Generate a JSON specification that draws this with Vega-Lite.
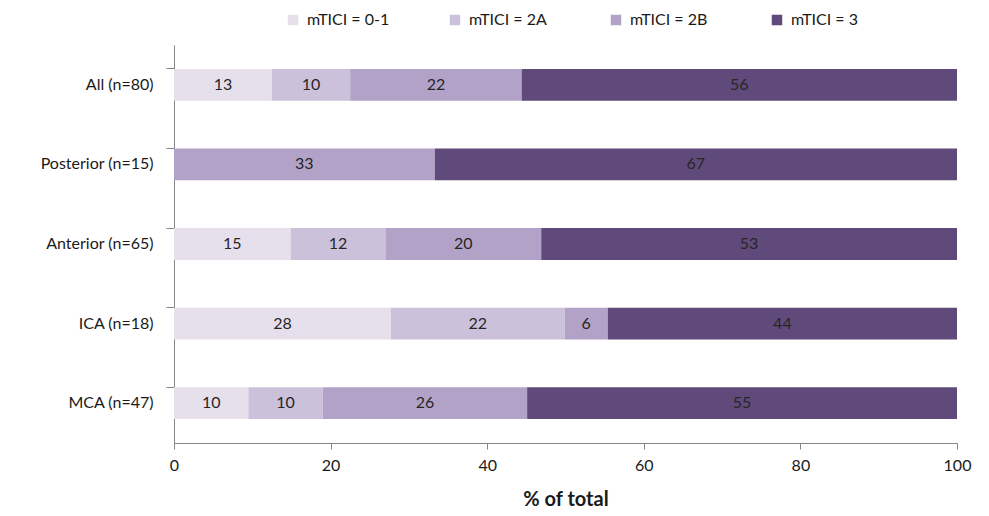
{
  "$schema": "https://vega.github.io/schema/vega-lite/v6.json",
  "width": 783,
  "height": 398,
  "autosize": {"type": "none"},
  "padding": {"left": 174, "top": 45, "right": 32, "bottom": 73},
  "background": "white",
  "config": {
    "font": "Lato",
    "view": {"stroke": null},
    "axis": {"domainColor": "#868686", "tickColor": "#868686", "labelColor": "#1a1a1a", "grid": false, "labelFont": "Lato", "labelFontSize": 16}
  },
  "data": {
    "values": [
      {"group": "All (n=80)", "cat": "mTICI = 0-1", "o": 1, "value": 12.5, "label": "13"},
      {"group": "All (n=80)", "cat": "mTICI =  2A", "o": 2, "value": 10.0, "label": "10"},
      {"group": "All (n=80)", "cat": "mTICI =  2B", "o": 3, "value": 21.9, "label": "22"},
      {"group": "All (n=80)", "cat": "mTICI = 3", "o": 4, "value": 55.6, "label": "56"},
      {"group": "Posterior (n=15)", "cat": "mTICI =  2B", "o": 3, "value": 33.3, "label": "33"},
      {"group": "Posterior (n=15)", "cat": "mTICI = 3", "o": 4, "value": 66.7, "label": "67"},
      {"group": "Anterior (n=65)", "cat": "mTICI = 0-1", "o": 1, "value": 14.9, "label": "15"},
      {"group": "Anterior (n=65)", "cat": "mTICI =  2A", "o": 2, "value": 12.1, "label": "12"},
      {"group": "Anterior (n=65)", "cat": "mTICI =  2B", "o": 3, "value": 19.9, "label": "20"},
      {"group": "Anterior (n=65)", "cat": "mTICI = 3", "o": 4, "value": 53.1, "label": "53"},
      {"group": "ICA (n=18)", "cat": "mTICI = 0-1", "o": 1, "value": 27.7, "label": "28"},
      {"group": "ICA (n=18)", "cat": "mTICI =  2A", "o": 2, "value": 22.2, "label": "22"},
      {"group": "ICA (n=18)", "cat": "mTICI =  2B", "o": 3, "value": 5.5, "label": "6"},
      {"group": "ICA (n=18)", "cat": "mTICI = 3", "o": 4, "value": 44.6, "label": "44"},
      {"group": "MCA (n=47)", "cat": "mTICI = 0-1", "o": 1, "value": 9.5, "label": "10"},
      {"group": "MCA (n=47)", "cat": "mTICI =  2A", "o": 2, "value": 9.5, "label": "10"},
      {"group": "MCA (n=47)", "cat": "mTICI =  2B", "o": 3, "value": 26.1, "label": "26"},
      {"group": "MCA (n=47)", "cat": "mTICI = 3", "o": 4, "value": 54.9, "label": "55"}
    ]
  },
  "transform": [
    {"stack": "value", "groupby": ["group"], "sort": [{"field": "o", "order": "ascending"}], "as": ["x0", "x1"]},
    {"calculate": "(datum.x0 + datum.x1) / 2", "as": "xm"}
  ],
  "encoding": {
    "y": {
      "field": "group", "type": "nominal", "sort": null, "title": null,
      "scale": {"paddingInner": 0.6, "paddingOuter": 0.3},
      "axis": {"bandPosition": 0, "tickSize": 8, "labelPadding": 13, "labelFontSize": 16}
    }
  },
  "layer": [
    {
      "mark": {"type": "bar"},
      "encoding": {
        "x": {
          "field": "x0", "type": "quantitative",
          "scale": {"domain": [0, 100], "nice": false},
          "axis": {"values": [0, 20, 40, 60, 80, 100], "tickSize": 6, "labelPadding": 8, "labelFontSize": 16, "labelFlush": false,
                   "title": "% of total", "titleFontSize": 20, "titleFontWeight": "bold", "titleColor": "#1a1a1a", "titlePadding": 16, "titleFont": "Lato"}
        },
        "x2": {"field": "x1"},
        "color": {
          "field": "cat", "type": "nominal",
          "scale": {"domain": ["mTICI = 0-1", "mTICI =  2A", "mTICI =  2B", "mTICI = 3"],
                    "range": ["#e6e0ec", "#ccc1da", "#b3a2c7", "#604a7b"]},
          "legend": {
            "title": null, "orient": "none", "direction": "horizontal",
            "legendX": 111, "legendY": -33,
            "symbolType": "square", "symbolSize": 110, "symbolStrokeWidth": 0,
            "labelFontSize": 16, "labelColor": "#1a1a1a", "labelFont": "Lato",
            "columnPadding": 57, "labelOffset": 6
          }
        }
      }
    },
    {
      "mark": {"type": "text", "fontSize": 16, "color": "#262626", "font": "Lato"},
      "encoding": {
        "x": {"field": "xm", "type": "quantitative"},
        "text": {"field": "label"}
      }
    }
  ]
}
